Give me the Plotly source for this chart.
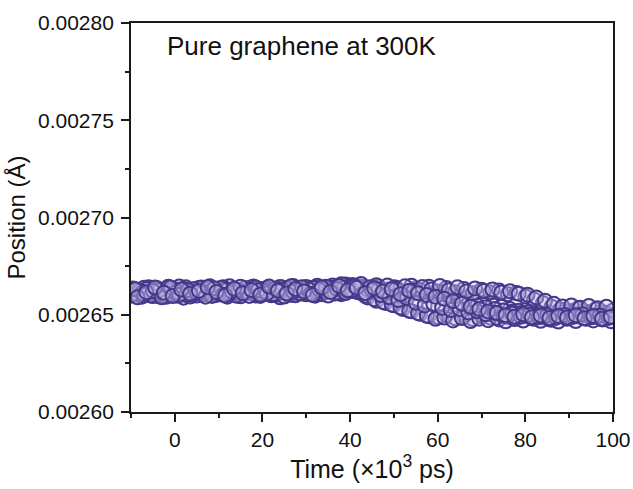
import plotly.graph_objects as go

# Time (x10^3 ps)
time_a = [-10, -8, -6, -4, -2, 0, 2, 4, 6, 8, 10, 12, 14, 16, 18, 20, 22, 24, 26, 28,
          30, 32, 34, 36, 38, 40, 42, 44, 46, 48, 50, 52, 54, 56, 58, 60, 62, 64, 66, 68,
          70, 72, 74, 76, 78, 80, 82, 84, 86, 88, 90, 92, 94, 96, 98, 100]
time_b = [-9, -7, -5, -3, -1, 1, 3, 5, 7, 9, 11, 13, 15, 17, 19, 21, 23, 25, 27, 29,
          31, 33, 35, 37, 39, 41, 43, 45, 47, 49, 51, 53, 55, 57, 59, 61, 63, 65, 67, 69,
          71, 73, 75, 77, 79, 81, 83, 85, 87, 89, 91, 93, 95, 97, 99]
time_c = [-9.5, -7.5, -5.5, -3.5, -1.5, 0.5, 2.5, 4.5, 6.5, 8.5, 10.5, 12.5, 14.5, 16.5,
          18.5, 20.5, 22.5, 24.5, 26.5, 28.5, 30.5, 32.5, 34.5, 36.5, 38.5, 40.5, 42.5, 44.5,
          46.5, 48.5, 50.5, 52.5, 54.5, 56.5, 58.5, 60.5, 62.5, 64.5, 66.5, 68.5, 70.5, 72.5,
          74.5, 76.5, 78.5, 80.5, 82.5, 84.5, 86.5, 88.5, 90.5, 92.5, 94.5, 96.5, 98.5]
time_d = [-8.5, -6.5, -4.5, -2.5, -0.5, 1.5, 3.5, 5.5, 7.5, 9.5, 11.5, 13.5, 15.5, 17.5,
          19.5, 21.5, 23.5, 25.5, 27.5, 29.5, 31.5, 33.5, 35.5, 37.5, 39.5, 41.5, 43.5, 45.5,
          47.5, 49.5, 51.5, 53.5, 55.5, 57.5, 59.5, 61.5, 63.5, 65.5, 67.5, 69.5, 71.5, 73.5,
          75.5, 77.5, 79.5, 81.5, 83.5, 85.5, 87.5, 89.5, 91.5, 93.5, 95.5, 97.5, 99.5]

# Position (Å)
pos_1 = [0.0026628, 0.0026605, 0.0026641, 0.0026597, 0.0026619, 0.0026633, 0.0026588, 0.0026612,
         0.0026640, 0.0026601, 0.0026625, 0.0026593, 0.0026630, 0.0026611, 0.0026645, 0.0026604,
         0.0026622, 0.0026590, 0.0026635, 0.0026614, 0.0026643, 0.0026598, 0.0026627, 0.0026650,
         0.0026606, 0.0026638, 0.0026615, 0.0026589, 0.0026572, 0.0026561, 0.0026549, 0.0026530,
         0.0026518, 0.0026505, 0.0026492, 0.0026488, 0.0026497, 0.0026482, 0.0026490, 0.0026478,
         0.0026493, 0.0026485, 0.0026476, 0.0026489, 0.0026481, 0.0026495, 0.0026479, 0.0026487,
         0.0026474, 0.0026492, 0.0026483, 0.0026496, 0.0026480, 0.0026488, 0.0026477, 0.0026491]
pos_2 = [0.0026612, 0.0026639, 0.0026596, 0.0026624, 0.0026608, 0.0026645, 0.0026617, 0.0026599,
         0.0026631, 0.0026610, 0.0026642, 0.0026620, 0.0026595, 0.0026628, 0.0026613, 0.0026637,
         0.0026602, 0.0026625, 0.0026648, 0.0026609, 0.0026632, 0.0026616, 0.0026641, 0.0026621,
         0.0026655, 0.0026629, 0.0026644, 0.0026618, 0.0026634, 0.0026611, 0.0026627, 0.0026603,
         0.0026615, 0.0026596, 0.0026608, 0.0026587, 0.0026579, 0.0026566, 0.0026558, 0.0026547,
         0.0026539, 0.0026530, 0.0026522, 0.0026515, 0.0026509, 0.0026517, 0.0026503, 0.0026512,
         0.0026498, 0.0026515, 0.0026506, 0.0026519, 0.0026501, 0.0026513, 0.0026504]
pos_3 = [0.0026598, 0.0026624, 0.0026610, 0.0026636, 0.0026592, 0.0026617, 0.0026633, 0.0026603,
         0.0026621, 0.0026646, 0.0026607, 0.0026629, 0.0026598, 0.0026637, 0.0026616, 0.0026631,
         0.0026600, 0.0026643, 0.0026612, 0.0026626, 0.0026605, 0.0026639, 0.0026619, 0.0026634,
         0.0026657, 0.0026622, 0.0026647, 0.0026630, 0.0026652, 0.0026625, 0.0026641, 0.0026618,
         0.0026649, 0.0026627, 0.0026644, 0.0026620, 0.0026638, 0.0026616, 0.0026633, 0.0026611,
         0.0026629, 0.0026614, 0.0026625, 0.0026606, 0.0026612, 0.0026594, 0.0026578, 0.0026560,
         0.0026541, 0.0026527, 0.0026519, 0.0026533, 0.0026514, 0.0026528, 0.0026511, 0.0026522]
pos_4 = [0.0026631, 0.0026604, 0.0026622, 0.0026590, 0.0026640, 0.0026601, 0.0026627, 0.0026614,
         0.0026593, 0.0026636, 0.0026603, 0.0026619, 0.0026644, 0.0026597, 0.0026626, 0.0026609,
         0.0026635, 0.0026594, 0.0026618, 0.0026641, 0.0026607, 0.0026628, 0.0026599, 0.0026633,
         0.0026612, 0.0026646, 0.0026608, 0.0026627, 0.0026601, 0.0026590, 0.0026576, 0.0026585,
         0.0026562, 0.0026548, 0.0026555, 0.0026536, 0.0026524, 0.0026530, 0.0026512, 0.0026518,
         0.0026502, 0.0026510, 0.0026495, 0.0026506, 0.0026491, 0.0026500, 0.0026488, 0.0026497,
         0.0026485, 0.0026499, 0.0026490, 0.0026502, 0.0026487, 0.0026496, 0.0026484]
pos_5 = [0.0026620, 0.0026593, 0.0026637, 0.0026609, 0.0026626, 0.0026598, 0.0026641, 0.0026617,
         0.0026604, 0.0026629, 0.0026612, 0.0026647, 0.0026606, 0.0026623, 0.0026599, 0.0026634,
         0.0026618, 0.0026640, 0.0026603, 0.0026630, 0.0026616, 0.0026649, 0.0026624, 0.0026642,
         0.0026613, 0.0026653, 0.0026636, 0.0026621, 0.0026645, 0.0026628, 0.0026639, 0.0026614,
         0.0026632, 0.0026622, 0.0026610, 0.0026618, 0.0026601, 0.0026593, 0.0026585, 0.0026571,
         0.0026563, 0.0026550, 0.0026541, 0.0026529, 0.0026521, 0.0026510, 0.0026505, 0.0026497,
         0.0026509, 0.0026493, 0.0026506, 0.0026489, 0.0026501, 0.0026492, 0.0026504]
pos_6 = [0.0026605, 0.0026632, 0.0026615, 0.0026601, 0.0026628, 0.0026610, 0.0026594, 0.0026638,
         0.0026619, 0.0026602, 0.0026631, 0.0026608, 0.0026624, 0.0026642, 0.0026597, 0.0026620,
         0.0026611, 0.0026636, 0.0026600, 0.0026623, 0.0026639, 0.0026606, 0.0026630, 0.0026614,
         0.0026644, 0.0026618, 0.0026596, 0.0026580, 0.0026566, 0.0026552, 0.0026537, 0.0026520,
         0.0026508, 0.0026495, 0.0026479, 0.0026486, 0.0026471, 0.0026483, 0.0026468, 0.0026480,
         0.0026472, 0.0026485, 0.0026466, 0.0026478, 0.0026470, 0.0026482, 0.0026469, 0.0026477,
         0.0026465, 0.0026479, 0.0026468, 0.0026481, 0.0026471, 0.0026476, 0.0026467]
pos_7 = [0.0026635, 0.0026611, 0.0026599, 0.0026627, 0.0026644, 0.0026619, 0.0026603, 0.0026632,
         0.0026615, 0.0026597, 0.0026638, 0.0026608, 0.0026626, 0.0026612, 0.0026640, 0.0026621,
         0.0026605, 0.0026628, 0.0026646, 0.0026610, 0.0026631, 0.0026617, 0.0026644, 0.0026609,
         0.0026638, 0.0026625, 0.0026658, 0.0026641, 0.0026629, 0.0026650, 0.0026633, 0.0026646,
         0.0026624, 0.0026643, 0.0026630, 0.0026648, 0.0026626, 0.0026641, 0.0026619, 0.0026635,
         0.0026622, 0.0026630, 0.0026615, 0.0026621, 0.0026608, 0.0026603, 0.0026589, 0.0026572,
         0.0026556, 0.0026542, 0.0026548, 0.0026536, 0.0026545, 0.0026533, 0.0026541]
pos_8 = [0.0026590, 0.0026616, 0.0026640, 0.0026613, 0.0026596, 0.0026630, 0.0026608, 0.0026623,
         0.0026641, 0.0026617, 0.0026599, 0.0026634, 0.0026611, 0.0026627, 0.0026603, 0.0026645,
         0.0026624, 0.0026609, 0.0026633, 0.0026620, 0.0026601, 0.0026640, 0.0026617, 0.0026648,
         0.0026626, 0.0026639, 0.0026612, 0.0026636, 0.0026619, 0.0026631, 0.0026606, 0.0026624,
         0.0026611, 0.0026602, 0.0026593, 0.0026582, 0.0026570, 0.0026557, 0.0026541, 0.0026530,
         0.0026517, 0.0026509, 0.0026498, 0.0026490, 0.0026502, 0.0026487, 0.0026496, 0.0026483,
         0.0026494, 0.0026486, 0.0026498, 0.0026482, 0.0026493, 0.0026480, 0.0026490]

series = [(time_a, pos_1), (time_c, pos_5), (time_b, pos_2), (time_d, pos_6),
          (time_a, pos_3), (time_c, pos_7), (time_b, pos_4), (time_d, pos_8)]

fig = go.Figure()
for xs, ys in series:
    fig.add_trace(go.Scatter(
        x=xs, y=ys, mode="markers",
        marker=dict(size=14, color="rgba(200,193,234,0.4)",
                    line=dict(color="#45378a", width=2)),
        showlegend=False))

font_family = "Liberation Sans, Arial, sans-serif"
axis_common = dict(
    showline=True, linecolor="#1a1a1a", linewidth=1.8, mirror=True,
    ticks="outside", ticklen=8, tickwidth=1.5, tickcolor="#1a1a1a",
    showgrid=False, zeroline=False, automargin=False,
    tickfont=dict(family=font_family, size=21, color="#111"),
)

fig.update_layout(
    width=633, height=489,
    margin=dict(l=131, r=20, t=23, b=77),
    paper_bgcolor="white", plot_bgcolor="white",
    font=dict(family=font_family, color="#111"),
    xaxis=dict(range=[-10, 100], tick0=0, dtick=20,
               minor=dict(ticks="outside", ticklen=4, tickwidth=1.5, tickcolor="#1a1a1a", dtick=10, tick0=0),
               title=dict(text="Time (×10<sup>3</sup> ps)", font=dict(size=25, family=font_family), standoff=8),
               **axis_common),
    yaxis=dict(range=[0.0026, 0.0028], tick0=0.0026, dtick=0.00005, tickformat=".5f",
               minor=dict(ticks="outside", ticklen=4, tickwidth=1.5, tickcolor="#1a1a1a", dtick=0.000025, tick0=0.0026),
               ticklabelstandoff=3,
               title=dict(text="Position (Å)", font=dict(size=24, family=font_family), standoff=6),
               **axis_common),
    annotations=[dict(text="Pure graphene at 300K", xref="paper", yref="paper",
                      x=0.07, y=0.94, xanchor="left", yanchor="middle", showarrow=False,
                      font=dict(size=26, family=font_family, color="#111"))],
)

fig.write_html("out.html")
